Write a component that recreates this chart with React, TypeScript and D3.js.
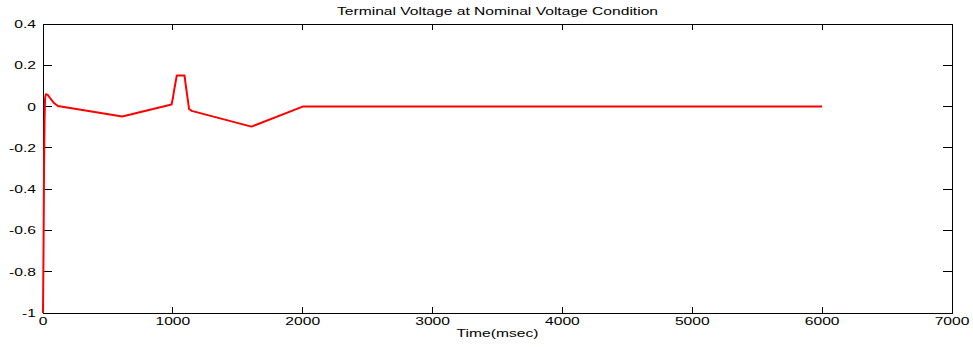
import React from 'react';
import * as d3 from 'd3';

// simulated terminal voltage (p.u. deviation) vs time in msec
const timeMs = [0, 4, 8, 12, 16, 22, 35, 50, 80, 115, 610, 990, 1000, 1010, 1030, 1090, 1100, 1125, 1145, 1605, 2000, 6000];
const voltage = [-1, -0.7, -0.3, -0.06, 0.04, 0.06, 0.058, 0.045, 0.02, 0.003, -0.048, 0.01, 0.04, 0.08, 0.15, 0.15, 0.1, -0.012, -0.021, -0.097, 0, 0];

const xTicks = [0, 1000, 2000, 3000, 4000, 5000, 6000, 7000];
const yTicks = [-1, -0.8, -0.6, -0.4, -0.2, 0, 0.2, 0.4];

const title = 'Terminal Voltage at Nominal Voltage Condition';
const xLabel = 'Time(msec)';

const W = 973, H = 347;
const margin = { left: 43, right: 21, top: 24, bottom: 34 };
const SX = 1.42; // the original font is drawn wide

const Txt = ({ x, y, anchor, size = 11, children }: any) => (
  <text
    transform={`translate(${x},${y}) scale(${SX},1)`}
    textAnchor={anchor}
    fontSize={size}
    fontFamily="Liberation Sans, Arial, sans-serif"
    fill="#000"
  >
    {children}
  </text>
);

export default function App() {
  const x = d3.scaleLinear().domain([0, 7000]).range([margin.left, W - margin.right]);
  const y = d3.scaleLinear().domain([-1, 0.4]).range([H - margin.bottom, margin.top]);

  const points = timeMs.map((t, i) => [t, voltage[i]] as [number, number]);
  const line = d3.line<[number, number]>()
    .x(d => x(d[0]))
    .y(d => y(d[1]));

  const x0 = x(0), x1 = x(7000), y0 = y(-1), y1 = y(0.4);
  const fmt = (v: number) => (Math.abs(v) < 1e-9 ? '0' : String(+v.toFixed(1)));

  return (
    <svg width={W} height={H} style={{ position: 'absolute', left: 0, top: 0, background: '#fff' }}>
      <rect x={0} y={0} width={W} height={H} fill="#fff" />

      {/* ticks on all four sides, pointing inward */}
      <g stroke="#000" strokeWidth={1} shapeRendering="crispEdges">
        {xTicks.map(t => (
          <g key={'xt' + t}>
            <line x1={x(t)} x2={x(t)} y1={y0} y2={y0 - 6} />
            <line x1={x(t)} x2={x(t)} y1={y1} y2={y1 + 6} />
          </g>
        ))}
        {yTicks.map(v => (
          <g key={'yt' + v}>
            <line x1={x0} x2={x0 + 9} y1={y(v)} y2={y(v)} />
            <line x1={x1} x2={x1 - 9} y1={y(v)} y2={y(v)} />
          </g>
        ))}
        <rect x={x0} y={y1} width={x1 - x0} height={y0 - y1} fill="none" />
      </g>

      <path d={line(points) || ''} fill="none" stroke="#ff0000" strokeWidth={2} strokeLinejoin="round" />

      {xTicks.map(t => (
        <Txt key={'xl' + t} x={x(t)} y={y0 + 12} anchor="middle">{String(t)}</Txt>
      ))}
      {yTicks.map(v => (
        <Txt key={'yl' + v} x={x0 - 7} y={y(v) + 4} anchor="end">{fmt(v)}</Txt>
      ))}

      <Txt x={(x0 + x1) / 2} y={15} anchor="middle">{title}</Txt>
      <Txt x={(x0 + x1) / 2} y={337} anchor="middle">{xLabel}</Txt>
    </svg>
  );
}
